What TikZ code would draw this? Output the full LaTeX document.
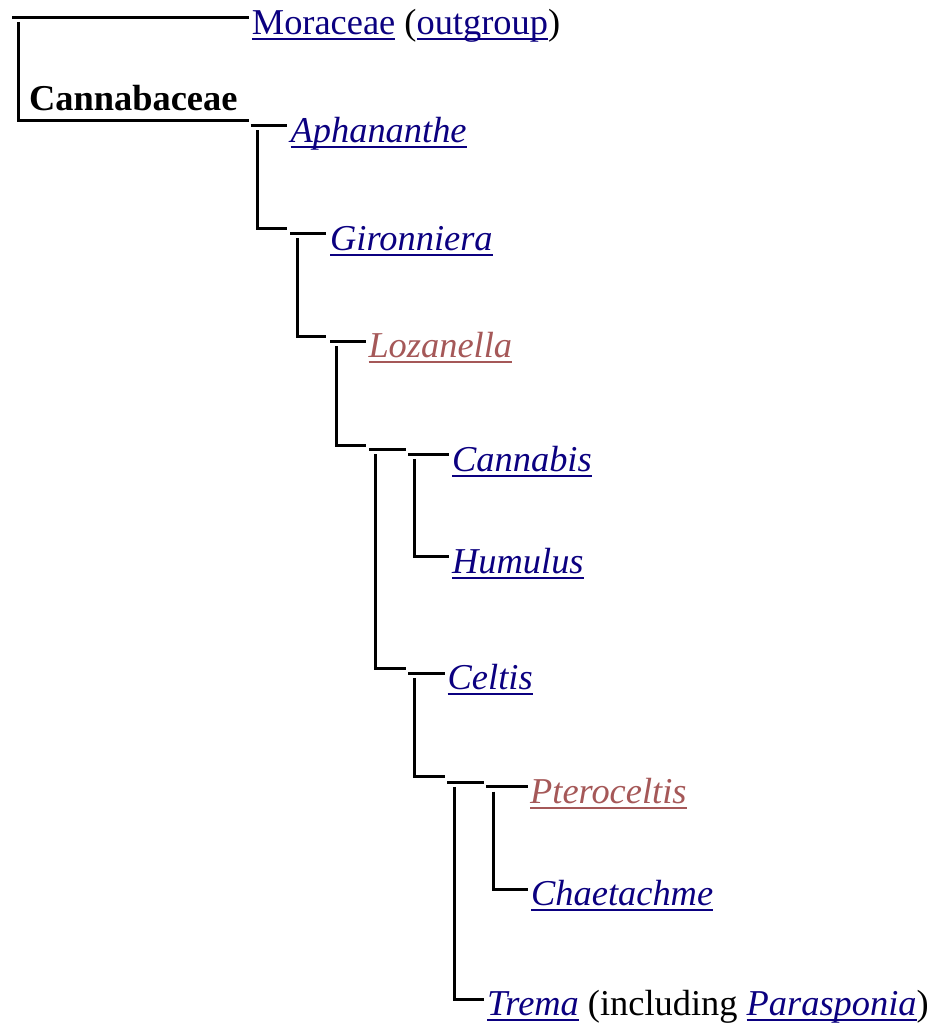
\documentclass[tikz,border=0pt]{standalone}
\usepackage{fontspec}
\setmainfont{Liberation Serif}
\definecolor{lnkblue}{HTML}{0B0080}
\definecolor{lnkred}{HTML}{A55858}
\newcommand\ulink[1]{\sbox0{#1}\rlap{\rule[-5.5pt]{\wd0}{2pt}}\usebox0}
\newcommand\cladebr[6]{%
  \coordinate (#1t) at (#2,#3);
  \coordinate (#1e) at (#4,#3);
  \coordinate (#1v) at (#5,#3+4.8);
  \coordinate (#1b) at (#4,#6);
  \draw[brline] (#1t) -- (#1e);
  \draw[brline] (#1v) |- (#1b);
}
\begin{document}
\begin{tikzpicture}[x=1pt,y=-1pt,
  brline/.style={draw=black,line width=3pt},
  lbl/.style={anchor=base west,inner sep=0pt,font=\fontsize{36.4}{40}\selectfont},
  blue link/.style={lbl,text=lnkblue,font=\fontsize{36.4}{40}\selectfont\itshape},
  red link/.style={lbl,text=lnkred,font=\fontsize{36.4}{40}\selectfont\itshape}]
\useasboundingbox (0,0) rectangle (940,1028);
% clades
\cladebr{c0}{12}{17}{248.7}{18.7}{120}
\cladebr{c1}{250.7}{125.3}{287.3}{257.3}{228.7}
\cladebr{c2}{290}{233.3}{326}{297.3}{336}
\cladebr{c3}{330}{341.3}{366}{336.7}{445}
\cladebr{c4}{369}{449.3}{406}{375.3}{668}
\cladebr{c5a}{408}{454.3}{449}{414}{556.7}
\cladebr{c5b}{408}{673.3}{445}{414}{776}
\cladebr{c6}{447}{782}{484}{454.7}{999}
\cladebr{c7}{486}{786.7}{528}{493.3}{889}
% labels
\node[lbl] (mor) at (251.7,34) {\textcolor{lnkblue}{\ulink{Moraceae}} (\textcolor{lnkblue}{\ulink{outgroup}})};
\node[lbl,font=\fontsize{36.4}{40}\selectfont\bfseries] (can) at (29,110) {Cannabaceae};
\node[blue link] (aph) at (290.5,142) {\ulink{Aphananthe}};
\node[blue link] (gir) at (330,250) {\ulink{Gironniera}};
\node[red link] (loz) at (368.3,357.5) {\ulink{Lozanella}};
\node[blue link] (cnb) at (452,471) {\ulink{Cannabis}};
\node[blue link] (hum) at (452,573.3) {\ulink{Humulus}};
\node[blue link] (cel) at (447.5,689) {\ulink{Celtis}};
\node[red link] (pte) at (530,803) {\ulink{Pteroceltis}};
\node[blue link] (cha) at (531,905.5) {\ulink{Chaetachme}};
\node[lbl] (tre) at (487,1015) {\textcolor{lnkblue}{\itshape\ulink{Trema}} (including \textcolor{lnkblue}{\itshape\ulink{Parasponia}})};
\end{tikzpicture}
\end{document}
